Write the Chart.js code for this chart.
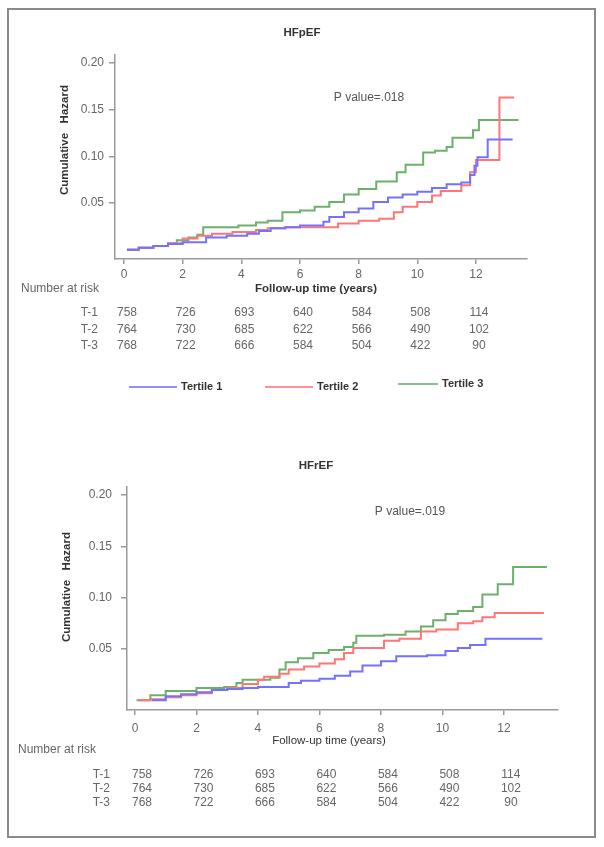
<!DOCTYPE html>
<html>
<head>
<meta charset="utf-8">
<script src="https://cdn.jsdelivr.net/npm/chart.js@4.4.0/dist/chart.umd.min.js"></script>
<style>
body { margin: 0; background: #fff; }
#frame { position: absolute; left: 7px; top: 8px; width: 589px; height: 830px; border: 2px solid #8a8a8a; box-sizing: border-box; }
#c1 { position: absolute; left: 0; top: 0; }
#c2 { position: absolute; left: 0; top: 420px; }
</style>
</head>
<body>
<div id="frame"></div>
<canvas id="c1" width="604" height="420"></canvas>
<canvas id="c2" width="604" height="427"></canvas>
<script>
// tick labels
var xTicks = [0, 2, 4, 6, 8, 10, 12];
var yTicks = [0.05, 0.10, 0.15, 0.20];
var seriesNames = ["Tertile 1", "Tertile 2", "Tertile 3"];
var seriesColors = ["#7272ff", "#ff7676", "#6cb06c"];

// number at risk (same in both panels)
var riskLabels = ["T-1", "T-2", "T-3"];
var riskT1 = [758, 726, 693, 640, 584, 508, 114];
var riskT2 = [764, 730, 685, 622, 566, 490, 102];
var riskT3 = [768, 722, 666, 584, 504, 422, 90];

// HFpEF - cumulative hazard steps (time in years, value)
var pefT1Time = [0.1, 0.5, 1.0, 1.5, 2.0, 2.8, 3.5, 4.2, 4.6, 5.0, 5.5, 6.0, 6.8, 7.0, 7.5, 8.0, 8.5, 9.0, 9.5, 10.0, 10.5, 11.0, 11.5, 11.8, 11.95, 12.05, 12.4, 13.25];
var pefT1Val  = [0.000, 0.002, 0.004, 0.006, 0.008, 0.013, 0.015, 0.017, 0.020, 0.023, 0.024, 0.026, 0.030, 0.035, 0.040, 0.044, 0.051, 0.056, 0.059, 0.062, 0.066, 0.070, 0.072, 0.080, 0.090, 0.099, 0.118, 0.118];
var pefT2Time = [0.1, 0.5, 1.0, 1.5, 2.0, 2.5, 3.0, 3.7, 4.5, 4.9, 5.5, 7.1, 7.3, 8.0, 8.7, 9.2, 9.5, 10.0, 10.5, 10.8, 11.5, 11.8, 12.0, 12.8, 13.3];
var pefT2Val  = [0.000, 0.002, 0.004, 0.007, 0.012, 0.015, 0.017, 0.019, 0.021, 0.023, 0.024, 0.024, 0.028, 0.031, 0.033, 0.040, 0.046, 0.051, 0.058, 0.063, 0.069, 0.083, 0.096, 0.163, 0.163];
var pefT3Time = [0.1, 0.5, 1.0, 1.5, 1.8, 2.2, 2.5, 2.7, 3.9, 4.5, 4.9, 5.4, 6.0, 6.5, 7.0, 7.5, 8.0, 8.6, 9.3, 9.6, 10.2, 10.6, 11.0, 11.2, 11.9, 12.1, 13.45];
var pefT3Val  = [0.000, 0.002, 0.004, 0.007, 0.010, 0.013, 0.016, 0.024, 0.026, 0.029, 0.031, 0.040, 0.042, 0.046, 0.051, 0.059, 0.065, 0.073, 0.083, 0.091, 0.104, 0.106, 0.110, 0.120, 0.128, 0.139, 0.139];

// HFrEF
var refT1Time = [0.55, 1.0, 1.5, 2.0, 2.5, 3.0, 3.5, 4.0, 5.0, 5.4, 6.0, 6.5, 7.0, 7.4, 8.0, 8.5, 9.5, 10.1, 10.5, 10.9, 11.4, 13.25];
var refT1Val  = [0.000, 0.004, 0.006, 0.008, 0.010, 0.011, 0.012, 0.013, 0.017, 0.019, 0.021, 0.024, 0.028, 0.034, 0.038, 0.043, 0.044, 0.048, 0.051, 0.054, 0.060, 0.060];
var refT2Time = [0.1, 0.5, 1.0, 1.5, 2.0, 2.5, 3.0, 3.5, 4.0, 4.2, 4.7, 5.0, 5.5, 6.0, 6.5, 6.8, 7.1, 8.1, 8.6, 9.3, 9.8, 10.5, 11.0, 11.3, 11.7, 13.3];
var refT2Val  = [0.000, 0.001, 0.003, 0.005, 0.007, 0.010, 0.012, 0.016, 0.020, 0.023, 0.026, 0.030, 0.033, 0.036, 0.040, 0.046, 0.051, 0.058, 0.060, 0.067, 0.069, 0.075, 0.077, 0.081, 0.085, 0.085];
var refT3Time = [0.05, 0.5, 1.0, 2.0, 2.9, 3.3, 3.5, 4.4, 4.7, 4.9, 5.3, 5.8, 6.3, 6.8, 7.1, 7.2, 8.1, 8.8, 9.3, 9.7, 10.1, 10.5, 11.0, 11.3, 11.8, 12.3, 13.4];
var refT3Val  = [0.000, 0.005, 0.009, 0.012, 0.013, 0.017, 0.020, 0.022, 0.030, 0.037, 0.041, 0.046, 0.049, 0.052, 0.056, 0.063, 0.064, 0.067, 0.072, 0.078, 0.084, 0.087, 0.091, 0.103, 0.113, 0.130, 0.130];

var FONT = "'Liberation Sans', Arial, sans-serif";

function steps(times, vals, i) {
    return {
        label: seriesNames[i],
        data: times.map(function (t, k) { return {x: t, y: vals[k]}; }),
        borderColor: seriesColors[i],
        borderWidth: 2,
        pointRadius: 0,
        stepped: true,
        fill: false
    };
}

// titles, p value, risk table, legend
var texts = {
    id: "texts",
    afterDraw: function (chart, args, o) {
        var ctx = chart.ctx;
        var xs = chart.scales.x;
        ctx.save();
        ctx.textBaseline = "middle";
        ctx.textAlign = "center";

        ctx.fillStyle = "#333";
        ctx.font = "bold 11.5px " + FONT;
        ctx.fillText(o.title, o.titleX, o.titleY);

        ctx.fillStyle = "#555";
        ctx.font = "12px " + FONT;
        ctx.fillText(o.pText, o.pX, o.pY);

        ctx.fillStyle = "#333";
        ctx.font = (o.xTitleBold ? "bold " : "") + "11.5px " + FONT;
        ctx.fillText("Follow-up time (years)", o.xTitleX, o.xTitleY);

        ctx.save();
        ctx.translate(o.yTitleX, o.yTitleY);
        ctx.rotate(-Math.PI / 2);
        ctx.font = "bold 11.5px " + FONT;
        ctx.fillText("Cumulative   Hazard", 0, 0);
        ctx.restore();

        ctx.fillStyle = "#666";
        ctx.font = "12px " + FONT;
        ctx.textAlign = "left";
        ctx.fillText("Number at risk", o.narX, o.narY);

        var rows = [riskT1, riskT2, riskT3];
        rows.forEach(function (row, r) {
            var y = o.rowY[r];
            ctx.textAlign = "right";
            ctx.fillText(riskLabels[r], o.rowLabelX, y);
            ctx.textAlign = "center";
            row.forEach(function (n, k) {
                ctx.fillText(String(n), xs.getPixelForValue(xTicks[k]) + o.numOffset, y);
            });
        });

        if (o.legend) {
            ctx.font = "bold 11px " + FONT;
            ctx.fillStyle = "#333";
            ctx.textAlign = "left";
            o.legend.forEach(function (L, i) {
                ctx.strokeStyle = seriesColors[i];
                ctx.globalAlpha = 0.8;
                ctx.lineWidth = 2;
                ctx.beginPath();
                ctx.moveTo(L[0], L[2]);
                ctx.lineTo(L[1], L[2]);
                ctx.stroke();
                ctx.globalAlpha = 1;
                ctx.fillText(seriesNames[i], L[1] + 4, L[2]);
            });
        }
        ctx.restore();
    }
};

function makeChart(id, sets, c) {
    return new Chart(id, {
        type: "line",
        data: {datasets: sets},
        options: {
            responsive: false,
            animation: false,
            devicePixelRatio: 1,
            layout: {padding: c.pad},
            plugins: {
                legend: {display: false},
                tooltip: {enabled: false},
                texts: c.texts
            },
            scales: {
                x: {
                    type: "linear",
                    min: c.xMin, max: c.xMax,
                    border: {color: "#999", width: 1.5},
                    grid: {drawOnChartArea: false, tickLength: 5, color: "#999", lineWidth: 1.5},
                    ticks: {color: "#666", font: {family: FONT, size: 12}, padding: c.xPad, maxRotation: 0},
                    afterBuildTicks: function (s) { s.ticks = xTicks.map(function (v) { return {value: v}; }); },
                    afterFit: function (s) { s.height = 30; }
                },
                y: {
                    min: c.yMin, max: c.yMax,
                    border: {color: "#999", width: 1.5},
                    grid: {drawOnChartArea: false, tickLength: 6, color: "#999", lineWidth: 1.5},
                    ticks: {color: "#666", font: {family: FONT, size: 12}, padding: c.yPad,
                        callback: function (v) { return v.toFixed(2); }},
                    afterBuildTicks: function (s) { s.ticks = yTicks.map(function (v) { return {value: v}; }); },
                    afterFit: function (s) { s.width = c.yWidth; }
                }
            }
        },
        plugins: [texts]
    });
}

makeChart("c1", [
    steps(pefT1Time, pefT1Val, 0),
    steps(pefT2Time, pefT2Val, 1),
    steps(pefT3Time, pefT3Val, 2)
], {
    pad: {left: 0, top: 55, right: 77, bottom: 131},
    yWidth: 115, xMin: -0.307, xMax: 13.74, yMin: -0.010, yMax: 0.2086, xPad: 3, yPad: 5,
    texts: {
        title: "HFpEF", titleX: 302, titleY: 33,
        pText: "P value=.018", pX: 369, pY: 98,
        xTitleBold: true, xTitleX: 316, xTitleY: 289,
        yTitleX: 65, yTitleY: 140,
        narX: 21, narY: 289,
        rowY: [313, 330, 346], rowLabelX: 98, numOffset: 3,
        legend: [[129, 177, 387], [265, 313, 387], [398, 438, 384]]
    }
});

makeChart("c2", [
    steps(refT1Time, refT1Val, 0),
    steps(refT2Time, refT2Val, 1),
    steps(refT3Time, refT3Val, 2)
], {
    pad: {left: 0, top: 67, right: 46, bottom: 107},
    yWidth: 127, xMin: -0.26, xMax: 13.76, yMin: -0.0094, yMax: 0.2078, xPad: 6, yPad: 9,
    texts: {
        title: "HFrEF", titleX: 316, titleY: 46,
        pText: "P value=.019", pX: 410, pY: 92,
        xTitleBold: false, xTitleX: 329, xTitleY: 321,
        yTitleX: 67, yTitleY: 167,
        narX: 18, narY: 330,
        rowY: [355, 369, 383], rowLabelX: 110, numOffset: 7,
        legend: null
    }
});
</script>
</body>
</html>
